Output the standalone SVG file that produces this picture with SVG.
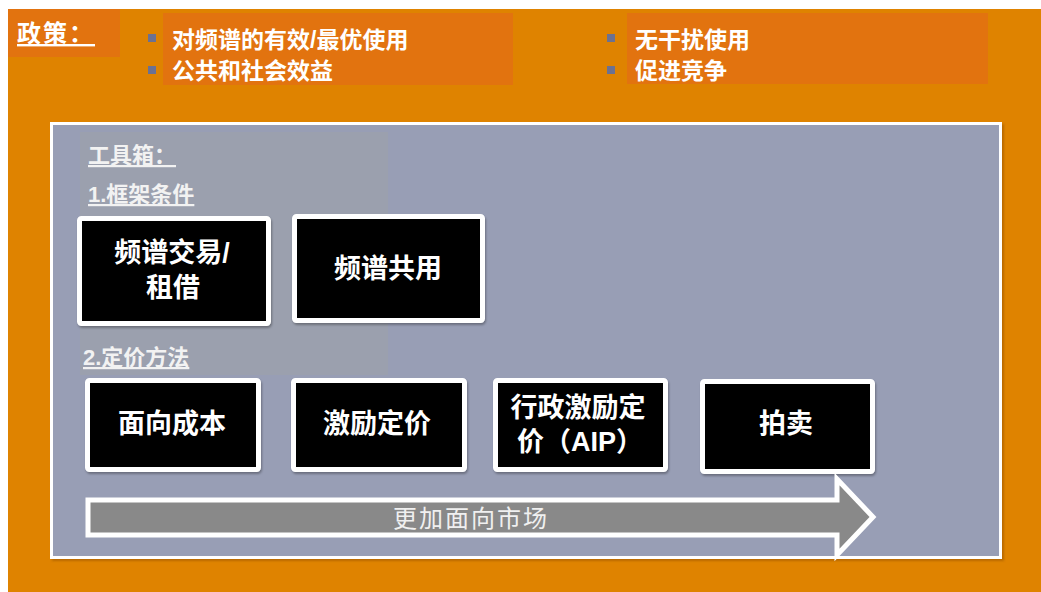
<svg xmlns="http://www.w3.org/2000/svg" width="1041" height="592" viewBox="0 0 1041 592">
  <defs>
    <filter id="sh" x="-10%" y="-10%" width="130%" height="130%">
      <feDropShadow dx="1" dy="2" stdDeviation="1.2" flood-color="#000" flood-opacity="0.3"/>
    </filter>
    <filter id="psh" x="-5%" y="-5%" width="110%" height="110%">
      <feDropShadow dx="2" dy="2" stdDeviation="1" flood-color="#8a4a00" flood-opacity="0.45"/>
    </filter>
  </defs>
  <style>
    .cjk { font-family: "Liberation Sans", "Noto Sans CJK SC", sans-serif; }
    .top { font-size: 23px; font-weight: bold; fill: #ffffff; }
    .hl { fill: #E2730F; }
    .bullet { fill: #6B7192; }
    .sec { font-size: 22px; font-weight: bold; fill: #F2F2F2; text-decoration: underline; }
    .box { fill: #000000; stroke: #ffffff; stroke-width: 5; }
    .boxtxt { font-size: 27px; font-weight: bold; fill: #ffffff; text-anchor: middle; }
    .arrow { fill: #898989; stroke: #ffffff; stroke-width: 5; stroke-linejoin: miter; }
    .arrowtxt { font-size: 24px; fill: #F0F0F0; text-anchor: middle; letter-spacing: 2px; }
  </style>

  <rect x="0" y="0" width="1041" height="592" fill="#ffffff"/>
  <rect x="8" y="9" width="1033" height="583" fill="#DF8300"/>

  <g id="policy">
    <rect class="hl" x="8" y="9" width="112" height="48"/>
    <text class="cjk top" x="17" y="42" style="font-size:24px; letter-spacing:2px; text-decoration: underline;">政策：</text>
  </g>

  <g id="policy-goals-1">
    <rect class="hl" x="163" y="13" width="350" height="72"/>
    <rect class="bullet" x="148" y="34" width="8" height="8"/>
    <rect class="bullet" x="148" y="66" width="8" height="8"/>
    <text class="cjk top" x="172" y="48">对频谱的有效/最优使用</text>
    <text class="cjk top" x="172" y="79">公共和社会效益</text>
  </g>

  <g id="policy-goals-2">
    <rect class="hl" x="627" y="13" width="361" height="71"/>
    <rect class="bullet" x="607" y="34" width="8" height="8"/>
    <rect class="bullet" x="607" y="66" width="8" height="8"/>
    <text class="cjk top" x="635" y="48">无干扰使用</text>
    <text class="cjk top" x="635" y="79">促进竞争</text>
  </g>

  <g id="toolbox">
    <rect x="51.5" y="123.5" width="949" height="434" fill="#989EB5" stroke="#ffffff" stroke-width="3" filter="url(#psh)"/>
    <rect x="80" y="132" width="308" height="243" fill="#9BA0AE"/>
    <text class="cjk sec" x="88" y="163">工具箱：</text>
    <text class="cjk sec" x="88" y="202">1.框架条件</text>
    <text class="cjk sec" x="83" y="365">2.定价方法</text>
  </g>

  <g id="spectrum-trading">
    <rect class="box" x="79.5" y="218.5" width="189" height="105" rx="2" filter="url(#sh)"/>
    <text class="cjk boxtxt" x="172" y="262">频谱交易/</text>
    <text class="cjk boxtxt" x="173" y="297">租借</text>
  </g>

  <g id="spectrum-sharing">
    <rect class="box" x="294.5" y="216.5" width="188" height="104" rx="2" filter="url(#sh)"/>
    <text class="cjk boxtxt" x="388" y="278">频谱共用</text>
  </g>

  <g id="cost-based">
    <rect class="box" x="87.5" y="380.5" width="171" height="89" rx="2" filter="url(#sh)"/>
    <text class="cjk boxtxt" x="172" y="433">面向成本</text>
  </g>

  <g id="incentive-pricing">
    <rect class="box" x="293.5" y="380.5" width="171" height="89" rx="2" filter="url(#sh)"/>
    <text class="cjk boxtxt" x="377" y="433">激励定价</text>
  </g>

  <g id="aip">
    <rect class="box" x="495.5" y="380.5" width="170" height="89" rx="2" filter="url(#sh)"/>
    <text class="cjk boxtxt" x="578" y="417">行政激励定</text>
    <text class="cjk boxtxt" x="580" y="451">价（AIP）</text>
  </g>

  <g id="auction">
    <rect class="box" x="702.5" y="381.5" width="170" height="90" rx="2" filter="url(#sh)"/>
    <text class="cjk boxtxt" x="786" y="433">拍卖</text>
  </g>

  <g id="connectors">
    <polygon class="arrow" points="88,500 837,500 837,479 873,517 837,555 837,535 88,535"/>
    <text class="cjk arrowtxt" x="471" y="527">更加面向市场</text>
  </g>
</svg>
